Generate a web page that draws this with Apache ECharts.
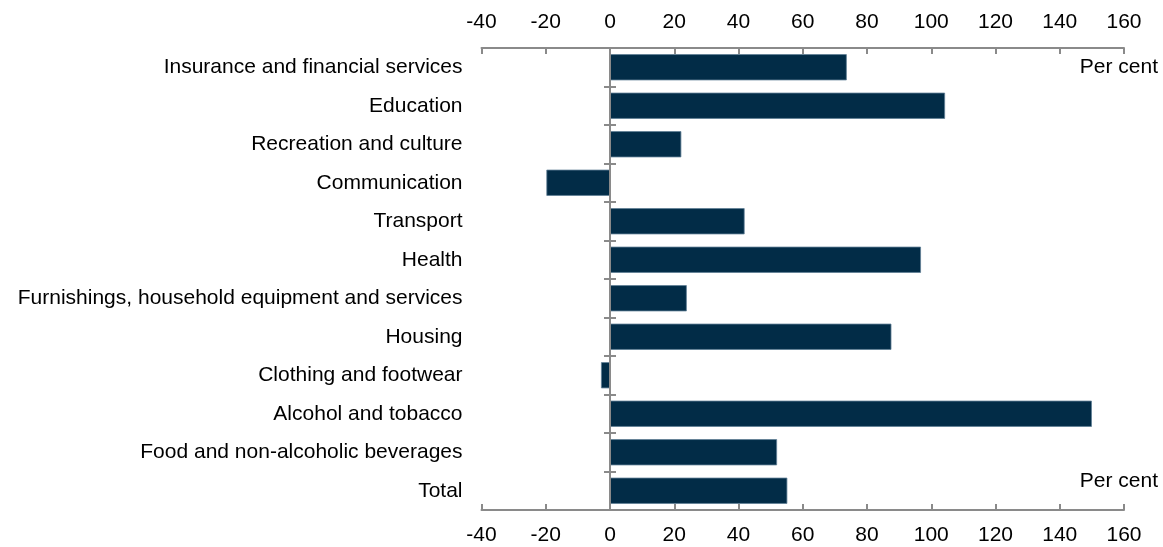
<!DOCTYPE html>
<html>
<head>
<meta charset="utf-8">
<script src="https://cdn.jsdelivr.net/npm/echarts@6/dist/echarts.min.js"></script>
<style>
  html, body { margin: 0; padding: 0; background: #fff; }
  #chart { width: 1163px; height: 547px; }
</style>
</head>
<body>
<div id="chart"></div>
<script>
// Categories from top to bottom
const categories = [
  'Insurance and financial services',
  'Education',
  'Recreation and culture',
  'Communication',
  'Transport',
  'Health',
  'Furnishings, household equipment and services',
  'Housing',
  'Clothing and footwear',
  'Alcohol and tobacco',
  'Food and non-alcoholic beverages',
  'Total'
];
// Change, per cent
const values = [73.7, 104.3, 22.2, -19.8, 41.9, 96.8, 23.9, 87.6, -2.8, 150.0, 52.0, 55.2];
const unitLabel = 'Per cent';

const axisGrey = '#8a8a8a';
const font = 'Arial, "Liberation Sans", sans-serif';
const fontSize = 21;

const valueAxis = (position) => ({
  type: 'value',
  position: position,
  min: -40,
  max: 160,
  interval: 20,
  axisLine: { show: true, onZero: false, lineStyle: { color: axisGrey, width: 2 } },
  axisTick: { show: true, inside: true, length: 6, lineStyle: { color: axisGrey, width: 2 } },
  axisLabel: { color: '#000', fontSize: fontSize, fontFamily: font, margin: 15 },
  splitLine: { show: false }
});

// Category ticks crossing the zero line (one axis per side)
const zeroAxis = (inside) => ({
  type: 'category',
  data: categories,
  inverse: true,
  position: 'left',
  axisLine: { show: true, onZero: true, onZeroAxisIndex: 0, lineStyle: { color: axisGrey, width: 2 } },
  axisTick: { show: true, inside: inside, length: 6, lineStyle: { color: axisGrey, width: 2 } },
  axisLabel: { show: false },
  splitLine: { show: false }
});

const chart = echarts.init(document.getElementById('chart'));
chart.setOption({
  animation: false,
  grid: { left: 481.5, right: 39, top: 48, bottom: 37, containLabel: false },
  xAxis: [valueAxis('bottom'), valueAxis('top')],
  yAxis: [
    {
      type: 'category',
      data: categories,
      inverse: true,
      position: 'left',
      axisLine: { show: false },
      axisTick: { show: false },
      axisLabel: { color: '#000', fontSize: fontSize, fontFamily: font, margin: 19 },
      splitLine: { show: false }
    },
    zeroAxis(true),
    zeroAxis(false)
  ],
  series: [{
    type: 'bar',
    xAxisIndex: 0,
    yAxisIndex: 0,
    data: values,
    barCategoryGap: '32%',
    itemStyle: { color: '#022c47', borderColor: '#5f7f96', borderWidth: 0.8 },
    z: 1,
    markLine: {
      silent: true,
      symbol: ['none', 'none'],
      label: { show: false },
      lineStyle: { color: axisGrey, width: 2, type: 'solid' },
      data: [{ xAxis: 0 }],
      z: 5
    }
  }],
  graphic: [
    { type: 'text', right: 5, top: 57, style: { text: unitLabel, font: fontSize + 'px ' + font, fill: '#000' } },
    { type: 'text', right: 5, top: 471, style: { text: unitLabel, font: fontSize + 'px ' + font, fill: '#000' } }
  ]
});
</script>
</body>
</html>
